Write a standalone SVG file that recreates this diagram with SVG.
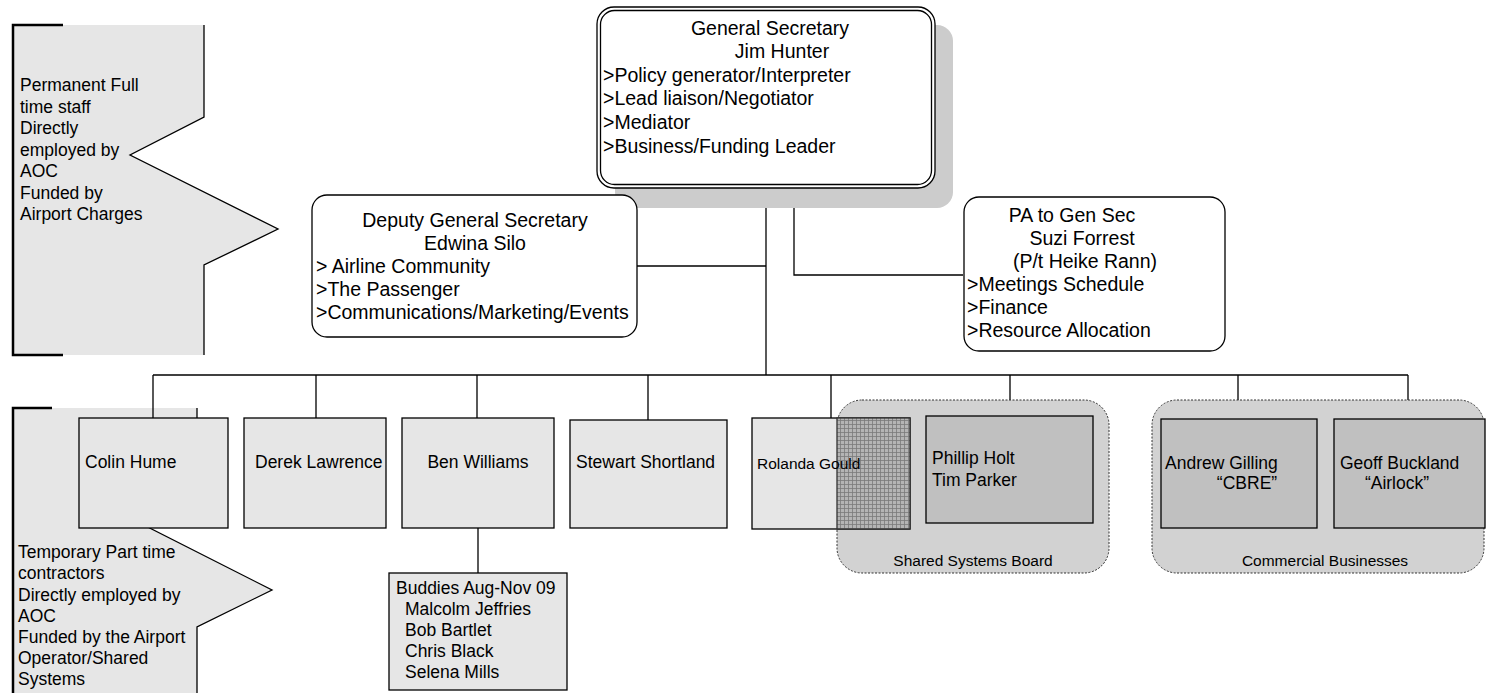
<svg xmlns="http://www.w3.org/2000/svg" width="1486" height="693" viewBox="0 0 1486 693">
<style>
text{font-family:"Liberation Sans",Arial,sans-serif;fill:#000}
.big{font-size:19.5px}
.mid{font-size:17.5px}
.sm{font-size:15.5px}
.c{text-anchor:middle}
.ln{stroke:#000;stroke-width:1.3;fill:none}
.box{fill:#e6e6e6;stroke:#000;stroke-width:1.3}
.dbox{fill:#c0c0c0;stroke:#000;stroke-width:1.3}
.grp{fill:#d2d2d2;stroke:#333;stroke-width:1;stroke-dasharray:2 1.5}
.rnd{fill:#fff;stroke:#000;stroke-width:1.3}
.brk{stroke:#000;stroke-width:2.5;fill:none}
</style>
<defs>
<pattern id="hatch" width="4" height="4" patternUnits="userSpaceOnUse">
<rect width="4" height="4" fill="#b4b4b4"/>
<path d="M0 0.5H4M0.5 0V4" stroke="#7a7a7a" stroke-width="0.8"/>
</pattern>
</defs>

<g id="callout-permanent">
<path d="M13 25H204V117L130 155L278 229L204 265V355H13Z" fill="#e6e6e6"/>
<path d="M204 25V117L130 155L278 229L204 265V355" class="ln" stroke-width="1"/>
<path d="M63 25H13V355H63" class="brk"/>
<text class="mid" x="20" y="91">Permanent Full</text>
<text class="mid" x="20" y="113">time staff</text>
<text class="mid" x="20" y="134">Directly</text>
<text class="mid" x="20" y="156">employed by</text>
<text class="mid" x="20" y="177">AOC</text>
<text class="mid" x="20" y="199">Funded by</text>
<text class="mid" x="20" y="220">Airport Charges</text>
</g>

<g id="callout-temporary">
<path d="M13 408H197V480L128 517L272 590L197 627V693H13Z" fill="#e6e6e6"/>
<path d="M197 408V480L128 517L272 590L197 627V693" class="ln" stroke-width="1"/>
<path d="M52 408H13V693" class="brk"/>
<text class="mid" x="18" y="558">Temporary Part time</text>
<text class="mid" x="18" y="579">contractors</text>
<text class="mid" x="18" y="601">Directly employed by</text>
<text class="mid" x="18" y="622">AOC</text>
<text class="mid" x="18" y="643">Funded by the Airport</text>
<text class="mid" x="18" y="664">Operator/Shared</text>
<text class="mid" x="18" y="685">Systems</text>
</g>

<g id="connectors">
<path class="ln" d="M766 188V375"/>
<path class="ln" d="M794 188V275H963"/>
<path class="ln" d="M637 266H766"/>
<path class="ln" d="M153 375H1408"/>
<path class="ln" d="M153 375V418M316 375V418M477 375V418M648 375V420M831 375V418M1010 375V416M1238 375V419M1408 375V419"/>
<path class="ln" d="M478 528V573"/>
</g>

<g id="general-secretary">
<rect x="615" y="25" width="338" height="183" rx="16" fill="#cccccc"/>
<rect x="597" y="7" width="338" height="181" rx="17" class="rnd"/>
<rect x="600.5" y="10.5" width="331" height="174" rx="14" fill="none" stroke="#000" stroke-width="1.3"/>
<text class="big c" x="770" y="35">General Secretary</text>
<text class="big c" x="782" y="58">Jim Hunter</text>
<text class="big" x="603" y="82">&gt;Policy generator/Interpreter</text>
<text class="big" x="603" y="105">&gt;Lead liaison/Negotiator</text>
<text class="big" x="603" y="129">&gt;Mediator</text>
<text class="big" x="603" y="153">&gt;Business/Funding Leader</text>
</g>

<g id="deputy">
<rect x="312" y="195" width="325" height="142" rx="15" class="rnd"/>
<text class="big c" x="475" y="227">Deputy General Secretary</text>
<text class="big c" x="475" y="250">Edwina Silo</text>
<text class="big" x="316" y="273">&gt; Airline Community</text>
<text class="big" x="316" y="296">&gt;The Passenger</text>
<text class="big" x="316" y="319">&gt;Communications/Marketing/Events</text>
</g>

<g id="pa">
<rect x="964" y="197" width="261" height="154" rx="15" class="rnd"/>
<text class="big c" x="1072" y="222">PA to Gen Sec</text>
<text class="big c" x="1082" y="245">Suzi Forrest</text>
<text class="big c" x="1085" y="268">(P/t Heike Rann)</text>
<text class="big" x="967" y="291">&gt;Meetings Schedule</text>
<text class="big" x="967" y="314">&gt;Finance</text>
<text class="big" x="967" y="337">&gt;Resource Allocation</text>
</g>

<g id="colin-hume">
<rect x="79" y="418" width="149" height="110" class="box"/>
<text class="mid" x="85" y="468">Colin Hume</text>
</g>
<g id="derek-lawrence">
<rect x="244" y="418" width="142" height="110" class="box"/>
<text class="mid" x="255" y="468">Derek Lawrence</text>
</g>
<g id="ben-williams">
<rect x="402" y="418" width="152" height="110" class="box"/>
<text class="mid c" x="478" y="468">Ben Williams</text>
</g>
<g id="stewart-shortland">
<rect x="570" y="420" width="157" height="108" class="box"/>
<text class="mid" x="576" y="468">Stewart Shortland</text>
</g>

<g id="buddies">
<rect x="389" y="573" width="178" height="117" class="box"/>
<text class="mid" x="396" y="594">Buddies Aug-Nov 09</text>
<text class="mid" x="405" y="615">Malcolm Jeffries</text>
<text class="mid" x="405" y="636">Bob Bartlet</text>
<text class="mid" x="405" y="657">Chris Black</text>
<text class="mid" x="405" y="678">Selena Mills</text>
</g>

<g id="shared-systems-board">
<rect x="837" y="400" width="272" height="173" rx="25" class="grp"/>
<text class="sm c" x="973" y="566">Shared Systems Board</text>
</g>

<g id="rolanda-gould">
<rect x="752" y="418" width="158" height="111" class="box"/>
<rect x="837" y="418" width="73" height="111" fill="url(#hatch)" stroke="#333" stroke-width="1.3"/>
<text class="sm" x="757" y="469">Rolanda Gould</text>
</g>

<g id="phillip-holt">
<rect x="926" y="416" width="167" height="107" class="dbox"/>
<text class="mid" x="932" y="464">Phillip Holt</text>
<text class="mid" x="932" y="486">Tim Parker</text>
</g>

<g id="commercial-businesses">
<rect x="1152" y="400" width="332" height="173" rx="25" class="grp"/>
<text class="sm c" x="1325" y="566">Commercial Businesses</text>
</g>
<g id="andrew-gilling">
<rect x="1161" y="419" width="156" height="109" class="dbox"/>
<text class="mid" x="1165" y="469">Andrew Gilling</text>
<text class="mid c" x="1247" y="489">“CBRE”</text>
</g>
<g id="geoff-buckland">
<rect x="1334" y="419" width="151" height="109" class="dbox"/>
<text class="mid" x="1340" y="469">Geoff Buckland</text>
<text class="mid c" x="1397" y="489">“Airlock”</text>
</g>
</svg>
